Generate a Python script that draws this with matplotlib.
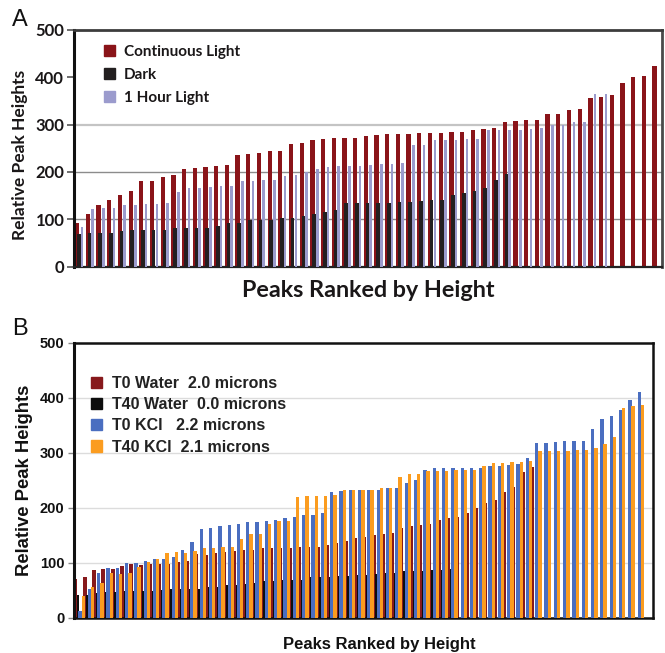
import numpy as np
import matplotlib.pyplot as plt
from matplotlib.patches import Patch

# ---- panel A: peak heights, ranked ----
a_continuous = [92, 110, 131, 141, 152, 159, 181, 181, 189, 193,
                207, 209, 211, 213, 215, 235, 237, 241, 244, 244,
                260, 261, 268, 270, 272, 272, 272, 275, 277, 281,
                281, 281, 283, 283, 283, 285, 285, 288, 290, 292,
                306, 308, 310, 310, 323, 323, 330, 334, 356, 359,
                363, 389, 400, 402, 424]
a_dark = [68, 71, 71, 71, 75, 77, 78, 78, 78, 81,
          81, 81, 81, 85, 92, 92, 99, 99, 99, 103,
          103, 106, 112, 116, 119, 134, 134, 134, 134, 134,
          136, 136, 138, 140, 140, 152, 156, 160, 167, 182,
          195]
a_hour = [83, 121, 123, 123, 130, 131, 133, 133, 135, 157,
          165, 165, 169, 171, 171, 180, 180, 182, 182, 191,
          193, 200, 207, 210, 212, 212, 212, 214, 216, 216,
          218, 256, 256, 267, 267, 267, 269, 269, 288, 288,
          288, 288, 290, 292, 299, 299, 305, 305, 364, 364]
a_labels = ['Continuous Light', 'Dark', '1 Hour Light']

# ---- panel B ----
b_t0_water = [70, 74, 87, 88, 88, 94, 97, 95, 98, 97,
              97, 102, 103, 115, 114, 118, 119, 121, 123, 124,
              126, 126, 126, 126, 129, 129, 129, 132, 136, 139,
              145, 147, 150, 152, 154, 164, 167, 168, 170, 178,
              181, 183, 191, 200, 208, 214, 229, 238, 265, 274]
b_t40_water = [41, 42, 45, 47, 47, 49, 49, 49, 49, 51,
               53, 53, 53, 53, 55, 56, 59, 59, 62, 64,
               67, 67, 68, 68, 68, 74, 74, 74, 76, 76,
               77, 77, 79, 81, 82, 85, 85, 85, 87, 87,
               89]
b_t0_kcl = [13, 52, 81, 90, 90, 99, 99, 104, 107, 107,
            111, 123, 138, 161, 164, 167, 169, 170, 174, 174,
            176, 178, 182, 184, 186, 186, 190, 229, 231, 232,
            232, 232, 232, 236, 236, 245, 250, 268, 272, 272,
            272, 272, 273, 273, 275, 275, 277, 279, 290, 317,
            318, 319, 321, 321, 321, 344, 361, 367, 378, 395,
            410]
b_t40_kcl = [40, 56, 64, 81, 80, 82, 93, 101, 107, 117,
             119, 117, 121, 126, 126, 129, 128, 144, 153, 152,
             170, 176, 176, 219, 221, 221, 222, 223, 232, 232,
             232, 232, 236, 236, 256, 261, 261, 267, 267, 267,
             269, 268, 268, 275, 282, 282, 284, 284, 285, 303,
             303, 303, 303, 305, 305, 308, 315, 328, 381, 385,
             387]
b_labels = ['T0 Water  2.0 microns', 'T40 Water  0.0 microns',
            'T0 KCl   2.2 microns', 'T40 KCl  2.1 microns']

y_ticks = [0, 100, 200, 300, 400, 500]

W, H = 665, 653
fig = plt.figure(figsize=(W / 100, H / 100), dpi=100)
axA = fig.add_axes([74 / W, 1 - 266.5 / H, 588 / W, 236.5 / H])
axB = fig.add_axes([74 / W, 1 - 617.7 / H, 578.5 / W, 275 / H])

# ---------- panel A ----------
fa = 'Lato'
red_a, dark_a, lav_a = '#8a1419', '#231f20', '#9b9bcd'
axA.bar(np.arange(len(a_continuous)) - 0.2, a_continuous, width=0.4,
        color=red_a, zorder=2)
axA.bar(np.arange(len(a_dark)) - 0.05, a_dark, width=0.34,
        color=dark_a, zorder=3)
axA.bar(np.arange(len(a_hour)) + 0.25, a_hour, width=0.24,
        color=lav_a, zorder=4)
axA.set_xlim(-0.5, len(a_continuous) - 0.5)
axA.set_ylim(0, 500)
axA.set_xticks([])
axA.set_yticks(y_ticks)
axA.set_yticklabels([str(t) for t in y_ticks], fontfamily=fa,
                    fontweight='bold', fontsize=12, color='#1a1718')
axA.tick_params(axis='y', length=5, width=1.2, color='#555555', pad=2)
for g in [100, 200]:
    axA.axhline(g, color='#8c8c8c', lw=1, zorder=1)
axA.axhline(300, color='#c4c4c4', lw=1.6, zorder=1)
axA.spines['left'].set_linewidth(2.2)
axA.spines['left'].set_color('#111111')
axA.spines['bottom'].set_linewidth(1.6)
axA.spines['bottom'].set_color('#222222')
axA.spines['top'].set_linewidth(2)
axA.spines['top'].set_color('#3c3c3c')
axA.spines['right'].set_linewidth(2)
axA.spines['right'].set_color('#4a4a4a')
axA.set_ylabel('Relative Peak Heights', fontfamily=fa, fontweight='bold',
               fontsize=12.5, color='#1a1718', labelpad=5, y=0.47)
axA.set_xlabel('Peaks Ranked by Height', fontfamily=fa, fontweight='bold',
               fontsize=16.8, color='#1a1718', labelpad=10)
handles_a = [Patch(color=c) for c in (red_a, dark_a, lav_a)]
axA.legend(handles_a, a_labels, loc='upper left',
           bbox_to_anchor=(0.028, 0.995), frameon=False,
           prop={'family': fa, 'weight': 'bold', 'size': 11},
           handlelength=0.7, handleheight=0.7, handletextpad=0.6,
           labelspacing=0.58, labelcolor='#1a1718')
fig.text(12 / W, 1 - 20 / H, 'A', fontfamily='Liberation Sans',
         fontsize=17, va='center', ha='left', color='#111111')

# ---------- panel B ----------
fb = 'Liberation Sans'
red_b, blk_b, blue_b, org_b = '#87191c', '#0d0d0d', '#4a6ec0', '#fb9c1f'
axB.bar(np.arange(len(b_t0_water)), b_t0_water, width=0.42,
        align='edge', color=red_b, zorder=2)
axB.bar(np.arange(len(b_t40_water)) + 0.40, b_t40_water, width=0.24,
        align='edge', color=blk_b, zorder=3)
axB.bar(np.arange(len(b_t0_kcl)) + 0.54, b_t0_kcl, width=0.36,
        align='edge', color=blue_b, zorder=4)
axB.bar(np.arange(len(b_t40_kcl)) + 0.88, b_t40_kcl, width=0.36,
        align='edge', color=org_b, zorder=5)
axB.set_xlim(0.07, 0.07 + 578.5 / 9.32)
axB.set_ylim(0, 500)
axB.set_xticks([])
axB.set_yticks(y_ticks)
axB.set_yticklabels([str(t) for t in y_ticks], fontfamily=fb,
                    fontweight='bold', fontsize=10.5, color='#111111')
axB.tick_params(axis='y', length=4, width=1, color='#888888', pad=3)
for g in [100, 200, 300, 400]:
    axB.axhline(g, color='#dcdcdc', lw=1, zorder=1)
for s in axB.spines.values():
    s.set_linewidth(1.8)
    s.set_color('#111111')
axB.spines['left'].set_linewidth(2.2)
axB.set_ylabel('Relative Peak Heights', fontfamily=fb, fontweight='bold',
               fontsize=13.3, color='#111111', labelpad=5)
axB.set_xlabel('Peaks Ranked by Height', fontfamily=fb, fontweight='bold',
               fontsize=12, color='#111111', labelpad=14, x=0.527)
handles_b = [Patch(color=c) for c in (red_b, blk_b, blue_b, org_b)]
axB.legend(handles_b, b_labels, loc='upper left',
           bbox_to_anchor=(0.005, 0.93), frameon=False,
           prop={'family': fb, 'weight': 'bold', 'size': 11.5},
           handlelength=0.7, handleheight=0.7, handletextpad=0.6,
           labelspacing=0.38, labelcolor='#222222')
fig.text(12 / W, 1 - 329 / H, 'B', fontfamily='Liberation Sans',
         fontsize=17, va='center', ha='left', color='#111111')

fig.savefig('out.png', dpi=100)
